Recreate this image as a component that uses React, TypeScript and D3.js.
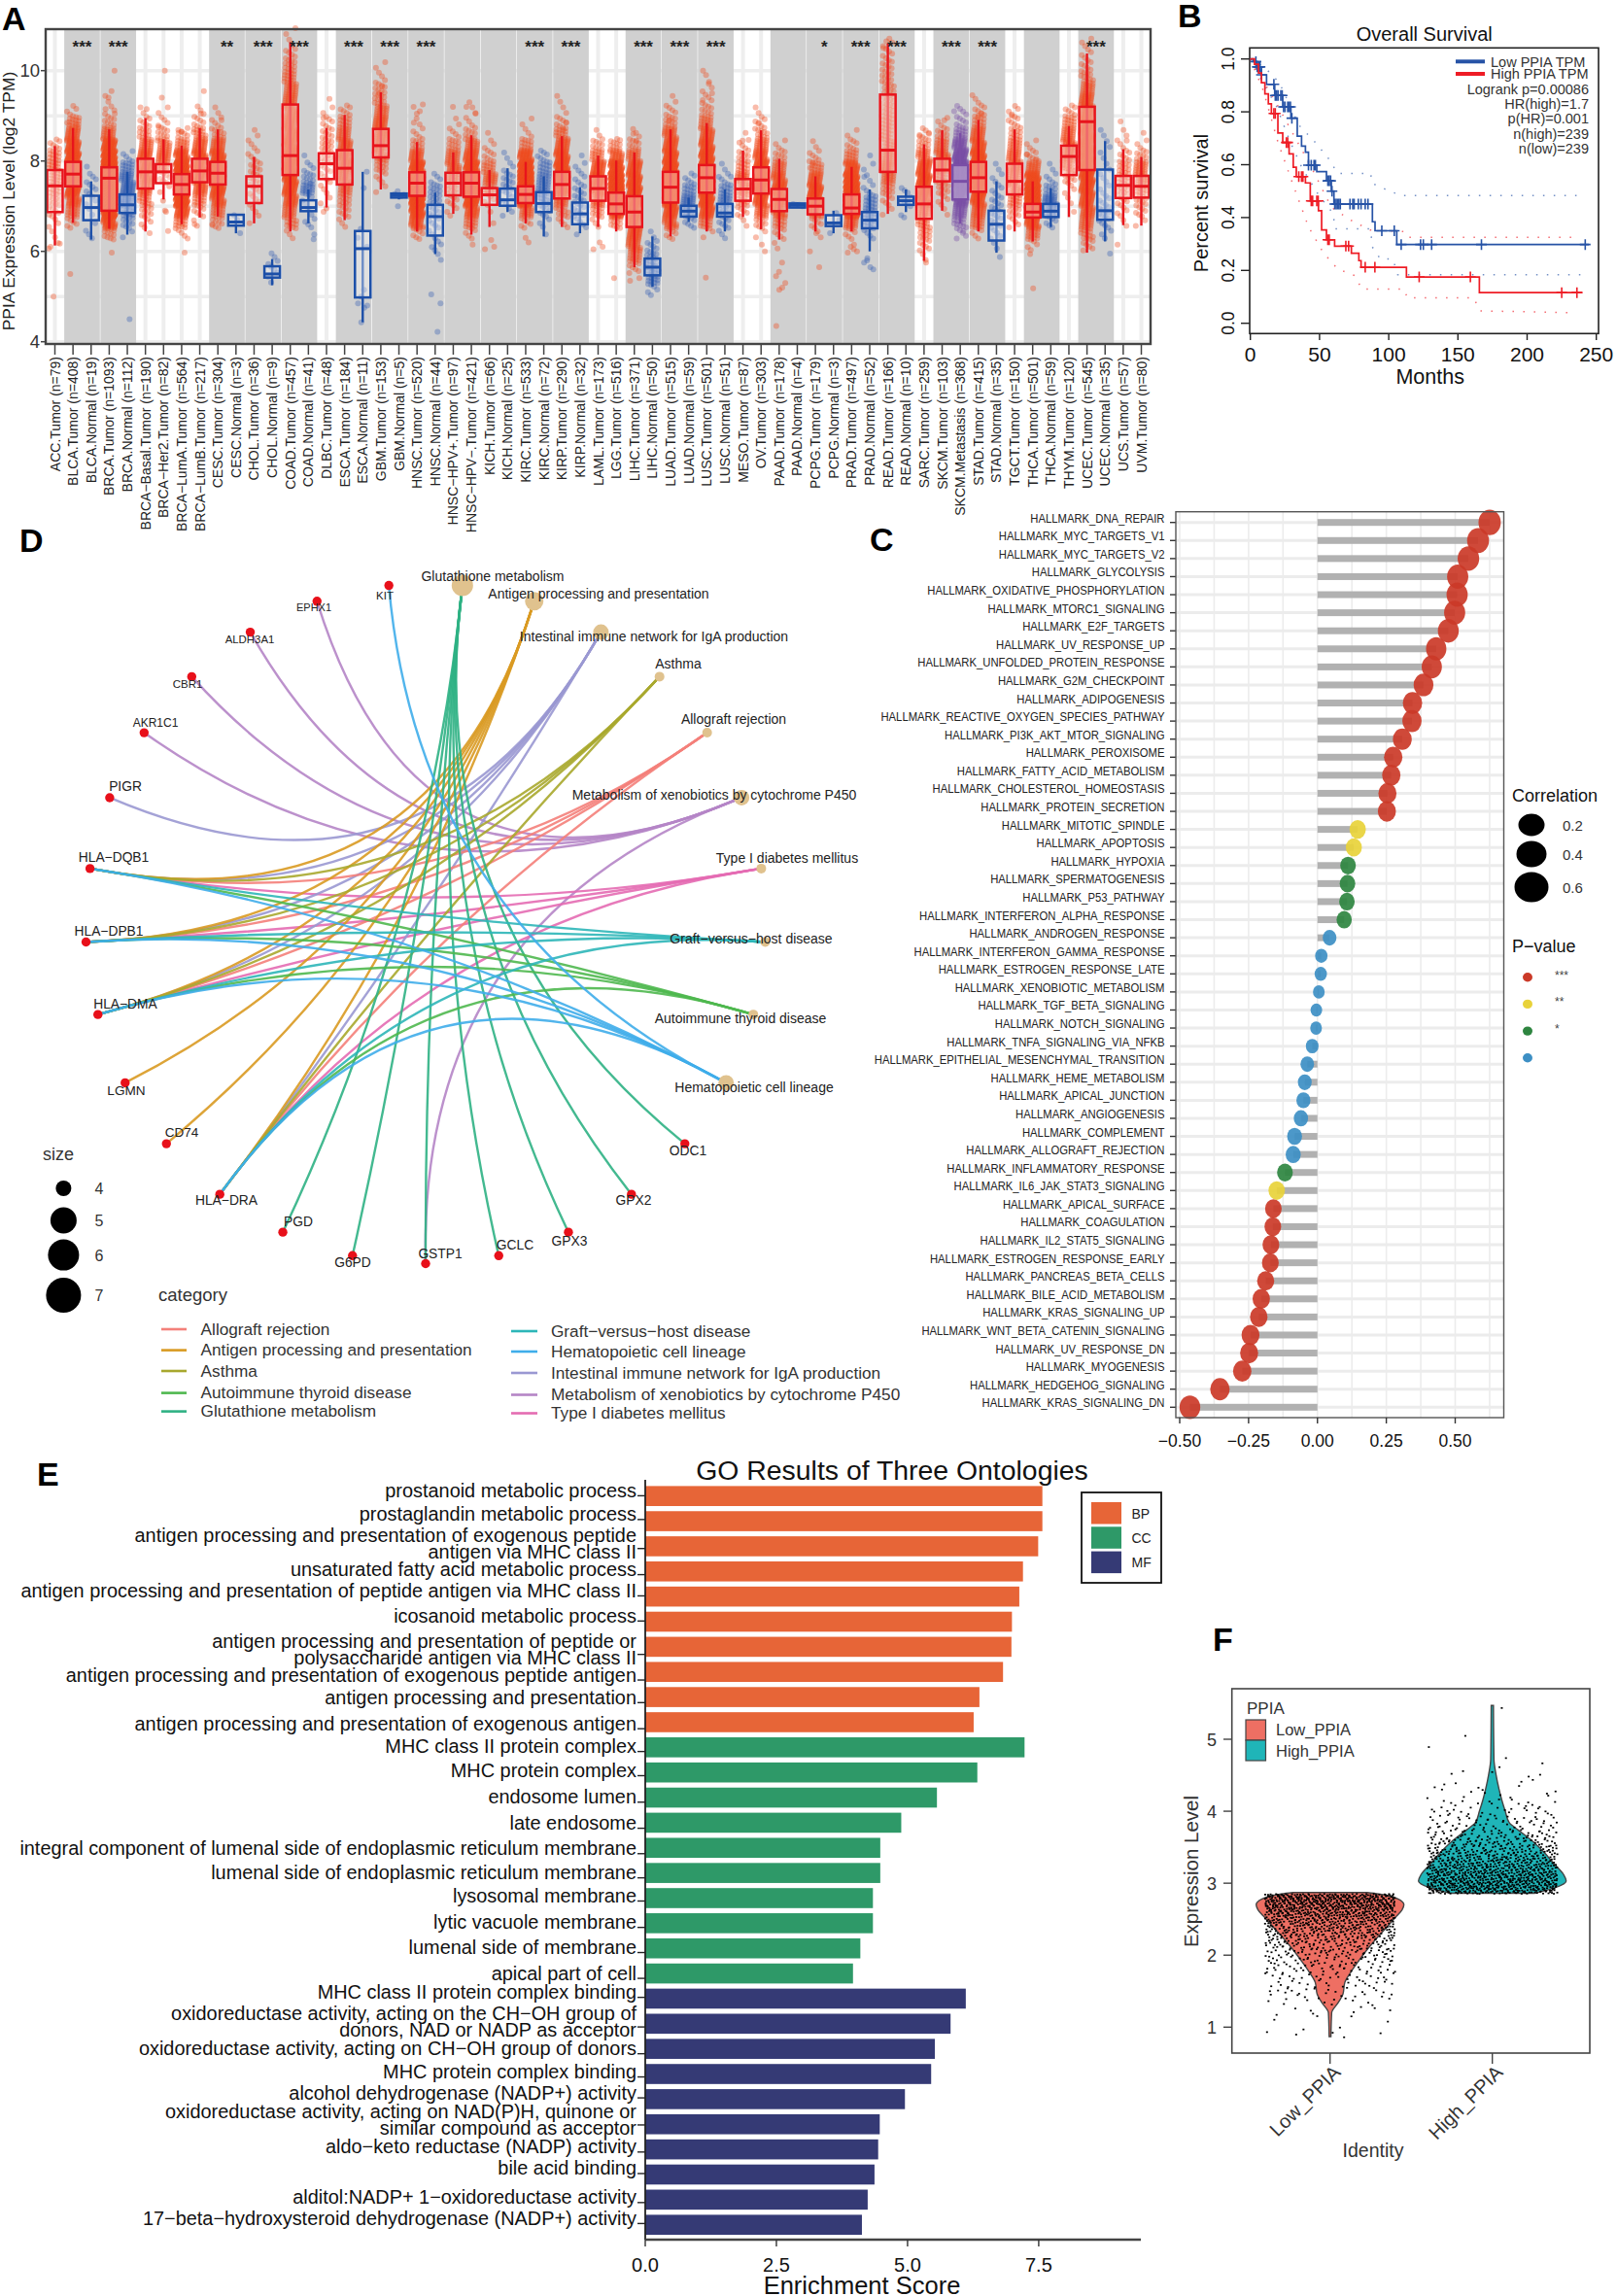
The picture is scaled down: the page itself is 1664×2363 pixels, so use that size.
import React, { useEffect, useRef } from "react";
import * as d3 from "d3";

const FONT = "'Liberation Sans', Arial, sans-serif";

// ---- panel A: expression per cancer type
const groupNames = [
    "ACC.Tumor (n=79)", "BLCA.Tumor (n=408)", "BLCA.Normal (n=19)", "BRCA.Tumor (n=1093)", "BRCA.Normal (n=112)", "BRCA−Basal.Tumor (n=190)", "BRCA−Her2.Tumor (n=82)", "BRCA−LumA.Tumor (n=564)", "BRCA−LumB.Tumor (n=217)", "CESC.Tumor (n=304)",
    "CESC.Normal (n=3)", "CHOL.Tumor (n=36)", "CHOL.Normal (n=9)", "COAD.Tumor (n=457)", "COAD.Normal (n=41)", "DLBC.Tumor (n=48)", "ESCA.Tumor (n=184)", "ESCA.Normal (n=11)", "GBM.Tumor (n=153)", "GBM.Normal (n=5)",
    "HNSC.Tumor (n=520)", "HNSC.Normal (n=44)", "HNSC−HPV+.Tumor (n=97)", "HNSC−HPV−.Tumor (n=421)", "KICH.Tumor (n=66)", "KICH.Normal (n=25)", "KIRC.Tumor (n=533)", "KIRC.Normal (n=72)", "KIRP.Tumor (n=290)", "KIRP.Normal (n=32)",
    "LAML.Tumor (n=173)", "LGG.Tumor (n=516)", "LIHC.Tumor (n=371)", "LIHC.Normal (n=50)", "LUAD.Tumor (n=515)", "LUAD.Normal (n=59)", "LUSC.Tumor (n=501)", "LUSC.Normal (n=51)", "MESO.Tumor (n=87)", "OV.Tumor (n=303)",
    "PAAD.Tumor (n=178)", "PAAD.Normal (n=4)", "PCPG.Tumor (n=179)", "PCPG.Normal (n=3)", "PRAD.Tumor (n=497)", "PRAD.Normal (n=52)", "READ.Tumor (n=166)", "READ.Normal (n=10)", "SARC.Tumor (n=259)", "SKCM.Tumor (n=103)",
    "SKCM.Metastasis (n=368)", "STAD.Tumor (n=415)", "STAD.Normal (n=35)", "TGCT.Tumor (n=150)", "THCA.Tumor (n=501)", "THCA.Normal (n=59)", "THYM.Tumor (n=120)", "UCEC.Tumor (n=545)", "UCEC.Normal (n=35)", "UCS.Tumor (n=57)",
    "UVM.Tumor (n=80)",
];
const boxLow = [
    6.13, 6.63, 6.26, 6.5, 6.37, 6.44, 7.15, 6.6, 6.75, 6.77,
    6.4, 6.62, 5.25, 6.44, 6.62, 6.97, 6.69, 4.43, 7.37, 7.15,
    6.44, 5.94, 6.83, 6.37, 6.54, 6.87, 6.62, 6.33, 6.54, 6.4,
    6.54, 6.44, 5.65, 5.22, 6.33, 6.65, 6.44, 6.44, 6.76, 6.49,
    6.26, 6.97, 6.44, 6.4, 6.44, 6.0, 6.83, 6.87, 5.79, 6.9,
    6.62, 6.44, 5.97, 6.44, 6.22, 6.54, 6.76, 5.97, 6.22, 6.58,
    6.57,
];
const boxQ1 = [
    6.87, 7.44, 6.69, 6.9, 6.85, 7.39, 7.51, 7.26, 7.53, 7.48,
    6.57, 7.07, 5.42, 7.69, 6.89, 7.6, 7.48, 4.98, 8.08, 7.19,
    7.23, 6.35, 7.24, 7.21, 7.03, 7.01, 7.07, 6.87, 7.17, 6.6,
    7.12, 6.83, 6.54, 5.47, 7.08, 6.77, 7.3, 6.77, 7.12, 7.28,
    6.89, 6.97, 6.82, 6.56, 6.83, 6.51, 7.76, 7.03, 6.72, 7.55,
    7.15, 7.32, 6.24, 7.26, 6.75, 6.76, 7.69, 7.8, 6.7, 7.18,
    7.19,
];
const boxMedian = [
    7.45, 7.71, 6.97, 7.62, 7.03, 7.76, 7.76, 7.48, 7.78, 7.73,
    6.65, 7.44, 5.5, 8.12, 6.97, 7.94, 7.84, 6.06, 8.34, 7.24,
    7.51, 6.77, 7.51, 7.51, 7.25, 7.14, 7.26, 7.06, 7.48, 6.83,
    7.39, 7.05, 6.87, 5.65, 7.42, 6.89, 7.63, 6.85, 7.38, 7.58,
    7.15, 7.02, 7.0, 6.63, 6.96, 6.69, 8.24, 7.12, 7.05, 7.8,
    7.55, 7.63, 6.6, 7.55, 6.87, 6.89, 8.1, 8.87, 6.9, 7.46,
    7.44,
];
const boxQ3 = [
    7.8, 7.98, 7.23, 7.86, 7.26, 8.05, 7.93, 7.71, 8.05, 7.98,
    6.81, 7.66, 5.67, 9.25, 7.13, 8.17, 8.24, 6.45, 8.71, 7.28,
    7.75, 7.03, 7.74, 7.75, 7.4, 7.39, 7.44, 7.31, 7.76, 7.08,
    7.66, 7.3, 7.22, 5.84, 7.76, 7.01, 7.91, 7.05, 7.6, 7.86,
    7.38, 7.06, 7.17, 6.8, 7.26, 6.87, 9.47, 7.21, 7.43, 8.05,
    7.91, 7.98, 6.9, 7.94, 7.05, 7.05, 8.34, 9.2, 7.81, 7.67,
    7.67,
];
const boxHigh = [
    8.33, 8.73, 7.55, 8.7, 7.76, 8.95, 8.48, 8.34, 8.73, 8.7,
    6.81, 8.09, 5.83, 10.63, 7.37, 8.73, 9.02, 7.76, 9.52, 7.3,
    8.42, 7.3, 8.19, 8.57, 7.8, 7.84, 7.98, 7.66, 8.55, 7.42,
    8.12, 8.01, 8.19, 6.33, 8.7, 7.19, 8.84, 7.37, 8.23, 8.68,
    8.05, 7.08, 7.66, 6.9, 7.87, 7.37, 10.6, 7.37, 8.37, 8.68,
    8.62, 8.91, 7.55, 8.7, 7.55, 7.4, 8.77, 10.38, 8.44, 8.26,
    8.09,
];
const cloudStart = [
    6.0, 6.5, 6.25, 6.25, 6.25, 6.5, 6.75, 6.25, 6.5, 6.5,
    0, 6.5, 5.25, 6.25, 6.25, 6.75, 6.5, 0, 7.25, 0,
    6.25, 5.75, 6.75, 6.25, 6.5, 6.75, 6.5, 6.25, 6.5, 6.25,
    6.5, 6.5, 5.5, 5.0, 6.25, 6.5, 6.25, 6.25, 6.5, 6.25,
    6.0, 0, 6.25, 0, 6.25, 6.25, 6.75, 0, 5.75, 6.75,
    6.25, 6.25, 5.75, 6.5, 6.0, 6.5, 6.75, 6.0, 6.25, 6.5,
    6.5,
];
const cloudCounts = [
    [2, 2, 3, 6, 9, 12, 14, 14, 12, 6], [6, 16, 30, 52, 70, 80, 64, 44, 28, 14, 4], [3, 1, 2, 3, 5, 4, 1], [10, 40, 100, 170, 220, 220, 160, 90, 50, 20, 8, 3, 2], [2, 8, 14, 22, 26, 22, 14, 4],
    [4, 8, 14, 24, 32, 38, 32, 20, 10, 6, 2], [1, 1, 2, 6, 16, 24, 18, 8, 4, 2], [4, 14, 40, 90, 130, 130, 90, 44, 16, 6], [2, 6, 14, 26, 36, 44, 40, 26, 14, 6, 3], [8, 16, 30, 46, 60, 60, 44, 24, 10, 4, 2],
    [], [1, 3, 4, 5, 7, 7, 4, 3, 2], [2, 4, 3], [3, 12, 18, 30, 40, 50, 50, 50, 40, 34, 30, 26, 22, 18, 14, 10, 6, 2, 2], [1, 4, 2, 3, 17, 9, 4, 1],
    [1, 2, 3, 4, 6, 8, 9, 7, 5, 2, 1], [3, 7, 10, 16, 24, 30, 32, 26, 18, 12, 6], [], [2, 4, 10, 18, 24, 28, 26, 18, 10, 8, 3, 2], [],
    [6, 30, 60, 100, 120, 100, 60, 28, 10, 4, 2], [2, 4, 3, 5, 7, 9, 10, 4], [3, 6, 10, 18, 24, 20, 10, 4, 2], [4, 14, 30, 60, 90, 90, 64, 36, 20, 8, 3, 2], [1, 1, 4, 12, 22, 14, 6, 3, 1],
    [3, 3, 7, 7, 3, 2], [6, 20, 70, 140, 150, 90, 40, 12, 3, 2], [1, 3, 6, 12, 16, 16, 12, 6], [4, 10, 20, 40, 60, 60, 44, 28, 14, 6, 2, 2], [1, 4, 6, 7, 6, 4, 3, 1],
    [3, 10, 22, 36, 44, 32, 16, 8, 2], [10, 50, 110, 140, 110, 60, 26, 10], [6, 16, 24, 30, 36, 40, 48, 56, 48, 36, 20, 8, 3], [4, 14, 14, 10, 6, 2], [6, 24, 40, 70, 90, 90, 70, 50, 34, 24, 10, 5, 2],
    [6, 14, 22, 12, 5], [2, 14, 40, 62, 74, 80, 70, 60, 40, 28, 16, 8, 4, 3], [3, 6, 8, 16, 12, 4, 2], [2, 6, 12, 20, 22, 12, 8, 4, 1], [2, 8, 20, 38, 54, 60, 50, 34, 20, 10, 5, 2],
    [2, 5, 12, 26, 34, 40, 30, 18, 8, 3], [], [2, 6, 24, 46, 50, 30, 14, 5, 2], [], [5, 20, 70, 130, 130, 80, 40, 14, 6, 2],
    [4, 12, 14, 12, 4, 2, 2, 1], [2, 5, 10, 18, 24, 18, 14, 12, 12, 10, 9, 9, 8, 7, 5, 3], [], [2, 6, 10, 14, 24, 38, 46, 48, 36, 20, 10, 5], [2, 4, 8, 14, 24, 24, 16, 8, 3],
    [4, 12, 22, 40, 54, 66, 66, 50, 30, 14, 6, 4], [4, 16, 24, 40, 56, 70, 70, 56, 34, 24, 12, 6, 3], [1, 2, 4, 6, 7, 6, 4, 3, 2], [4, 8, 14, 18, 22, 26, 22, 16, 10, 6, 4], [4, 16, 40, 90, 140, 120, 60, 22, 6, 3],
    [5, 14, 24, 10, 4, 2], [1, 2, 3, 8, 16, 24, 26, 20, 14, 6], [6, 12, 20, 28, 36, 44, 50, 54, 54, 50, 46, 40, 36, 28, 18, 10, 6, 4, 3], [3, 5, 8, 5, 3, 3, 2, 2, 2, 2], [2, 4, 6, 10, 12, 10, 6, 3, 2, 1],
    [2, 6, 8, 14, 20, 18, 8, 3, 1],
];
// single dots away from the clouds
const strayDots = [
    [5.0, 6.1, 6.17], [5.5, 8.85, 8.8], [], [10.0, 9.55, 9.4, 9.15, 9.05, 5.97], [4.5],
    [6.4, 9.15], [10.0, 9.4, 8.75, 6.45, 6.9], [5.97, 8.65, 8.62], [6.6, 9.55, 9.05], [6.6, 8.9],
    [6.4, 6.7, 6.8], [], [], [], [6.27, 7.5],
    [6.95, 8.95], [], [7.76, 7.4, 6.5, 6.3, 6.1, 5.15, 5.0, 4.85, 4.8, 4.75, 4.43], [9.65, 9.5], [7.33, 7.27, 7.25, 7.22, 7.0],
    [9.2, 9.25, 9.1, 9.05, 8.85], [5.05, 4.85, 4.22], [9.2], [9.3, 9.2, 9.05, 6.15], [6.05, 6.1, 6.25],
    [], [6.2, 6.3], [], [8.85, 8.7], [],
    [6.05, 6.1, 6.2], [5.41, 8.0], [5.35, 5.41, 8.45, 8.6], [], [8.9],
    [], [5.42, 9.35, 9.5, 9.75, 9.9, 10.0], [7.65], [8.45], [6.0, 6.15, 8.85],
    [5.75, 5.55, 5.45, 5.3, 5.2, 5.15, 4.35], [7.03, 7.03, 7.05, 7.0], [6.0, 5.65, 6.4, 7.95, 7.85], [6.4, 6.7, 6.85], [6.05, 6.1, 5.97, 6.0, 6.15],
    [5.8, 5.75, 5.6, 5.65, 5.85, 7.65], [10.65, 10.5], [6.75, 6.8, 7.0, 7.1, 7.1, 7.15, 7.2, 7.3, 7.35, 7.4], [8.55, 8.6, 5.75], [8.9],
    [9.1, 6.45], [9.05, 9.0], [], [9.0], [5.18, 5.94, 8.15, 8.05],
    [], [], [], [5.95], [6.15, 8.45],
    [],
];
// [first index of the tumour/normal pair, stars]; stars may be empty
const greyPairs: [number, string][] = [
    [1, "***"], [3, "***"], [9, "**"], [11, "***"], [13, "***"], [16, "***"], [18, "***"], [20, "***"], [22, ""], [24, ""], [26, "***"], [28, "***"],
    [32, "***"], [34, "***"], [36, "***"], [40, ""], [42, "*"], [44, "***"], [46, "***"], [49, "***"], [51, "***"], [54, ""], [57, "***"],
];

// ---- panel B: survival
const lowSurvival: [number, number][] = [
    [0, 1], [2, .99], [4.7, .97], [8, .94], [11.7, .904], [17.6, .862], [23.4, .819], [29.3, .776], [33.9, .708], [37, .67], [39.8, .647], [42, .598], [48, .574], [55, .539], [58.5, .5], [60.4, .451], [88.2, .384], [90.1, .35], [105.8, .298], [244.6, .298],
];
const highSurvival: [number, number][] = [
    [0, 1], [3, .98], [5.9, .947], [8, .91], [10.5, .868], [13, .83], [15.2, .794], [19.9, .72], [23.4, .684], [28, .641], [31, .59], [33.2, .555], [39.8, .531], [43.3, .463], [49.2, .426], [51.5, .353], [55, .316], [60.9, .292], [73, .265], [78.4, .237], [80, .212], [112.8, .175], [165.5, .116], [240, .116],
];
const lowCensored = [4, 5, 6, 7, 8, 17, 18, 19, 20, 22, 23, 24, 25, 27, 28, 29, 30, 42, 44, 46, 47, 56, 57, 58, 59, 61, 62, 63, 64, 65, 72, 74, 75, 78, 80, 83, 85, 95, 104, 109, 123, 125, 131, 167, 242];
const highCensored = [17, 18, 26, 27, 35, 37, 38, 44, 45, 48, 49, 56, 57, 69, 71, 83, 90, 122, 159, 225, 236];
const lowUpper: [number, number][] = [[0, 1], [10, .97], [21, .91], [35, .75], [47, .684], [57, .62], [63, .567], [87, .567], [87.8, .53], [98, .506], [109, .483], [241, .483]];
const lowLower: [number, number][] = [[0, 1], [8, .92], [19, .82], [28, .696], [37.5, .586], [49, .488], [60, .414], [61, .357], [87, .357], [88, .29], [94, .243], [103, .243], [106.5, .184], [239, .184]];
const highUpper: [number, number][] = [[0, 1], [18, .84], [33, .696], [44.5, .586], [58.5, .439], [72.6, .39], [86.6, .353], [112, .347], [114.7, .325], [236, .325]];
const highLower: [number, number][] = [[0, 1], [9.4, .88], [20, .684], [30, .537], [42, .365], [52.7, .267], [63, .206], [75, .181], [80.8, .129], [111, .129], [113.5, .096], [161.5, .096], [165.7, .047], [235, .04]];
const survivalNotes = ["Logrank p=0.00086", "HR(high)=1.7", "p(HR)=0.001", "n(high)=239", "n(low)=239"];

// ---- panel C: hallmark correlations
const hallmarkNames = [
    "DNA_REPAIR", "MYC_TARGETS_V1", "MYC_TARGETS_V2", "GLYCOLYSIS", "OXIDATIVE_PHOSPHORYLATION", "MTORC1_SIGNALING", "E2F_TARGETS", "UV_RESPONSE_UP", "UNFOLDED_PROTEIN_RESPONSE", "G2M_CHECKPOINT",
    "ADIPOGENESIS", "REACTIVE_OXYGEN_SPECIES_PATHWAY", "PI3K_AKT_MTOR_SIGNALING", "PEROXISOME", "FATTY_ACID_METABOLISM", "CHOLESTEROL_HOMEOSTASIS", "PROTEIN_SECRETION", "MITOTIC_SPINDLE", "APOPTOSIS", "HYPOXIA",
    "SPERMATOGENESIS", "P53_PATHWAY", "INTERFERON_ALPHA_RESPONSE", "ANDROGEN_RESPONSE", "INTERFERON_GAMMA_RESPONSE", "ESTROGEN_RESPONSE_LATE", "XENOBIOTIC_METABOLISM", "TGF_BETA_SIGNALING", "NOTCH_SIGNALING", "TNFA_SIGNALING_VIA_NFKB",
    "EPITHELIAL_MESENCHYMAL_TRANSITION", "HEME_METABOLISM", "APICAL_JUNCTION", "ANGIOGENESIS", "COMPLEMENT", "ALLOGRAFT_REJECTION", "INFLAMMATORY_RESPONSE", "IL6_JAK_STAT3_SIGNALING", "APICAL_SURFACE", "COAGULATION",
    "IL2_STAT5_SIGNALING", "ESTROGEN_RESPONSE_EARLY", "PANCREAS_BETA_CELLS", "BILE_ACID_METABOLISM", "KRAS_SIGNALING_UP", "WNT_BETA_CATENIN_SIGNALING", "UV_RESPONSE_DN", "MYOGENESIS", "HEDGEHOG_SIGNALING", "KRAS_SIGNALING_DN",
];
const hallmarkCorr = [
    .625, .583, .548, .509, .507, .498, .475, .431, .415, .385,
    .345, .343, .308, .275, .268, .254, .252, .146, .132, .111,
    .109, .107, .097, .044, .014, .012, .005, -.004, -.005, -.019,
    -.037, -.046, -.051, -.06, -.083, -.088, -.118, -.148, -.16, -.162,
    -.169, -.171, -.188, -.204, -.213, -.243, -.248, -.273, -.354, -.463,
];
const hallmarkStars = [
    3, 3, 3, 3, 3, 3, 3, 3, 3, 3,
    3, 3, 3, 3, 3, 3, 3, 2, 2, 1,
    1, 1, 1, 0, 0, 0, 0, 0, 0, 0,
    0, 0, 0, 0, 0, 0, 1, 2, 3, 3,
    3, 3, 3, 3, 3, 3, 3, 3, 3, 3,
];
const starColors = ["#3d8fc4", "#2e8540", "#e8d23a", "#cb3a28"];

// ---- panel D: gene / pathway network, in circle order starting at the bottom
const networkNodes = [
    "GSTP1", "G6PD", "PGD", "HLA−DRA", "CD74", "LGMN", "HLA−DMA", "HLA−DPB1", "HLA−DQB1", "PIGR", "AKR1C1", "CBR1", "ALDH3A1", "EPHX1", "KIT",
    "Glutathione metabolism", "Antigen processing and presentation", "Intestinal immune network for IgA production", "Asthma", "Allograft rejection", "Metabolism of xenobiotics by cytochrome P450", "Type I diabetes mellitus", "Graft−versus−host disease", "Autoimmune thyroid disease", "Hematopoietic cell lineage",
    "ODC1", "GPX2", "GPX3", "GCLC",
];
const hlaGenes = ["HLA−DRA", "HLA−DMA", "HLA−DPB1", "HLA−DQB1"];
const pathwayCategories = ["Allograft rejection", "Antigen processing and presentation", "Asthma", "Autoimmune thyroid disease", "Glutathione metabolism", "Graft−versus−host disease", "Hematopoietic cell lineage", "Intestinal immune network for IgA production", "Metabolism of xenobiotics by cytochrome P450", "Type I diabetes mellitus"];
const pathwayGenes = [
    hlaGenes,
    [...hlaGenes, "CD74", "LGMN"],
    hlaGenes,
    hlaGenes,
    ["G6PD", "PGD", "GSTP1", "GPX2", "GPX3", "ODC1", "GCLC"],
    hlaGenes,
    [...hlaGenes, "KIT"],
    [...hlaGenes, "PIGR"],
    ["AKR1C1", "CBR1", "ALDH3A1", "EPHX1", "GSTP1"],
    hlaGenes,
];
const categoryColors = ["#f4807a", "#d99a22", "#a8a82e", "#4fb84f", "#2fb184", "#2db6b8", "#3fadea", "#9a98d2", "#b585c6", "#e46cb2"];
// the figure paints the blue and teal edges over the others
const edgeDrawOrder = [8, 9, 7, 0, 1, 2, 4, 3, 5, 6];
const sizeLegend = [4, 5, 6, 7];

// ---- panel E: GO enrichment
const goTerms = [
    "prostanoid metabolic process", "prostaglandin metabolic process", "antigen processing and presentation of exogenous peptide\nantigen via MHC class II", "unsaturated fatty acid metabolic process", "antigen processing and presentation of peptide antigen via MHC class II",
    "icosanoid metabolic process", "antigen processing and presentation of peptide or\npolysaccharide antigen via MHC class II", "antigen processing and presentation of exogenous peptide antigen", "antigen processing and presentation", "antigen processing and presentation of exogenous antigen",
    "MHC class II protein complex", "MHC protein complex", "endosome lumen", "late endosome", "integral component of lumenal side of endoplasmic reticulum  membrane",
    "lumenal side of endoplasmic reticulum membrane", "lysosomal membrane", "lytic vacuole membrane", "lumenal side of membrane", "apical part of cell",
    "MHC class II protein complex binding", "oxidoreductase activity, acting on the CH−OH group of\ndonors, NAD or NADP as acceptor", "oxidoreductase activity, acting on CH−OH group of donors", "MHC protein complex binding", "alcohol dehydrogenase (NADP+) activity",
    "oxidoreductase activity, acting on NAD(P)H, quinone or\nsimilar compound as acceptor", "aldo−keto reductase (NADP) activity", "bile acid binding", "alditol:NADP+ 1−oxidoreductase activity", "17−beta−hydroxysteroid dehydrogenase (NADP+) activity",
];
const goScores = [
    7.57, 7.57, 7.49, 7.2, 7.13, 6.99, 6.98, 6.82, 6.37, 6.26,
    7.23, 6.33, 5.56, 4.88, 4.48, 4.48, 4.34, 4.34, 4.1, 3.96,
    6.11, 5.82, 5.52, 5.45, 4.95, 4.47, 4.44, 4.37, 4.24, 4.13,
];
const goOntology = [
    "BP", "BP", "BP", "BP", "BP", "BP", "BP", "BP", "BP", "BP",
    "CC", "CC", "CC", "CC", "CC", "CC", "CC", "CC", "CC", "CC",
    "MF", "MF", "MF", "MF", "MF", "MF", "MF", "MF", "MF", "MF",
];
const ontologyColors: Record<string, string> = { BP: "#e76537", CC: "#2e9968", MF: "#353a75" };

// ---- panel F: violins, [expression, relative width]
const lowViolin: [number, number][] = [[.87, .012], [1.2, .022], [1.34, .11], [1.46, .175], [1.62, .2], [1.77, .285], [1.93, .395], [2.08, .505], [2.24, .635], [2.39, .77], [2.52, .88], [2.63, .975], [2.7, 1], [2.78, .92], [2.85, .66], [2.87, .5]];
const highViolin: [number, number][] = [[2.86, .57], [2.94, .855], [3.03, 1], [3.12, .965], [3.27, .835], [3.43, .7], [3.58, .55], [3.74, .35], [3.84, .23], [4.0, .175], [4.15, .13], [4.31, .09], [4.51, .05], [4.72, .022], [5.47, .015]];
// jittered cells as counts per 0.1 wide bin
const lowCellBins: [number, number][] = [[.9, 5], [1.0, 2], [1.1, 3], [1.2, 6], [1.3, 8], [1.4, 14], [1.5, 18], [1.6, 20], [1.7, 24], [1.8, 30], [1.9, 36], [2.0, 46], [2.1, 56], [2.2, 70], [2.3, 90], [2.4, 110], [2.5, 130], [2.6, 160], [2.7, 190], [2.8, 210]];
const highCellBins: [number, number][] = [[2.9, 170], [3.0, 170], [3.1, 150], [3.2, 130], [3.3, 110], [3.4, 90], [3.5, 70], [3.6, 56], [3.7, 40], [3.8, 30], [3.9, 26], [4.0, 20], [4.1, 14], [4.2, 8], [4.3, 8], [4.4, 4], [4.5, 4], [4.6, 2], [4.7, 2], [4.9, 1], [5.0, 1], [5.45, 1]];

type G = d3.Selection<SVGGElement, unknown, null, undefined>;

// low discrepancy walks: an even, repeatable spread for the jitter
const spread = (i: number) => ((i * 0.7548776662) % 1) * 2 - 1;
const halton = (i: number, base: number) => {
    let f = 1, r = 0, n = i + 1;
    while (n > 0) {
        f /= base;
        r += f * (n % base);
        n = Math.floor(n / base);
    }
    return r;
};

const label = (g: G, x: number, y: number, text: string, size: number, anchor = "start", fill = "#111") =>
    g.append("text")
        .attr("x", x)
        .attr("y", y)
        .attr("font-size", size)
        .attr("text-anchor", anchor)
        .attr("fill", fill)
        .text(text);

const rotated = (g: G, x: number, y: number, text: string, size: number, angle: number, anchor = "middle", fill = "#111") =>
    g.append("text")
        .attr("transform", `translate(${x},${y}) rotate(${angle})`)
        .attr("font-size", size)
        .attr("text-anchor", anchor)
        .attr("fill", fill)
        .text(text);

function drawPanelA(g: G) {
    const frame = { left: 47, right: 1184, top: 30, bottom: 354 };
    const x = d3.scalePoint<string>().domain(groupNames).range([56.5, 1174.5]);
    const y = d3.scaleLinear().domain([4, 10]).range([351.7, 72.7]);
    const step = x.step();
    const xAt = (i: number) => x(groupNames[i]) as number;

    [4, 5, 6, 7, 8, 9, 10].forEach(v => {
        g.append("line").attr("x1", frame.left).attr("x2", frame.right).attr("y1", y(v)).attr("y2", y(v)).attr("stroke", "#eeeeee").attr("stroke-width", 3.5);
    });
    groupNames.forEach((_, i) => {
        g.append("line").attr("x1", xAt(i)).attr("x2", xAt(i)).attr("y1", frame.top).attr("y2", frame.bottom).attr("stroke", "#eeeeee").attr("stroke-width", 4);
    });
    greyPairs.forEach(([i]) => {
        g.append("rect").attr("x", xAt(i) - step / 2 + .3).attr("width", step * 2 - .6).attr("y", frame.top + 1).attr("height", frame.bottom - frame.top - 2).attr("fill", "#d0d0d0");
    });

    groupNames.forEach((name, i) => {
        const colors = name.includes("Metastasis")
            ? { line: "#7a4ea6", dot: "#7a4ea6" }
            : name.includes("Normal")
                ? { line: "#1c4fa8", dot: "#3a60b4" }
                : { line: "#e8141c", dot: "#ee4d20" };
        const cx = xAt(i);
        const dots = g.append("g").attr("fill", colors.dot).attr("fill-opacity", .38);
        let k = 0;
        const addDot = (v: number) => {
            dots.append("circle").attr("cx", cx + spread(k + i * 7) * 6.3).attr("cy", y(v)).attr("r", 3);
            k++;
        };
        cloudCounts[i].forEach((count, b) => {
            d3.range(count).forEach(c => addDot(cloudStart[i] + (b + (c + .5) / count) * .25));
        });
        strayDots[i].forEach(addDot);

        g.append("line").attr("x1", cx).attr("x2", cx).attr("y1", y(boxLow[i])).attr("y2", y(boxHigh[i])).attr("stroke", colors.line).attr("stroke-width", 2.4);
        g.append("rect").attr("x", cx - 8).attr("width", 16).attr("y", y(boxQ3[i])).attr("height", y(boxQ1[i]) - y(boxQ3[i]))
            .attr("fill", "#fff").attr("fill-opacity", .35).attr("stroke", colors.line).attr("stroke-width", 2.5);
        g.append("line").attr("x1", cx - 8).attr("x2", cx + 8).attr("y1", y(boxMedian[i])).attr("y2", y(boxMedian[i])).attr("stroke", colors.line).attr("stroke-width", 3);

        g.append("line").attr("x1", cx).attr("x2", cx).attr("y1", frame.bottom).attr("y2", 365).attr("stroke", "#444").attr("stroke-width", 1.5);
        rotated(g, cx + 5, 367, name, 14, -90, "end", "#222");
    });

    greyPairs.filter(d => d[1]).forEach(([i, stars]) => {
        label(g, xAt(i) + step / 2, 54, stars, 17, "middle", "#222").attr("font-weight", "bold");
    });

    g.append("rect").attr("x", frame.left).attr("y", frame.top).attr("width", frame.right - frame.left).attr("height", frame.bottom - frame.top)
        .attr("fill", "none").attr("stroke", "#444").attr("stroke-width", 2.4);
    [4, 6, 8, 10].forEach(v => {
        g.append("line").attr("x1", frame.left - 5).attr("x2", frame.left).attr("y1", y(v)).attr("y2", y(v)).attr("stroke", "#444").attr("stroke-width", 1.5);
        label(g, frame.left - 6, y(v) + 6.5, String(v), 18.5, "end", "#333");
    });
    rotated(g, 15, 207, "PPIA Expression Level (log2 TPM)", 17.4, -90, "middle", "#222");
}

function drawPanelB(g: G) {
    const x = d3.scaleLinear().domain([0, 250]).range([1286.7, 1642.7]);
    const y = d3.scaleLinear().domain([0, 1]).range([332.7, 60.7]);
    const BLUE = "#2753a6";
    const RED = "#ee1c25";
    const step = d3.line<[number, number]>().x(d => x(d[0])).y(d => y(d[1])).curve(d3.curveStepAfter);
    const plain = d3.line<[number, number]>().x(d => x(d[0])).y(d => y(d[1]));

    g.append("rect").attr("x", 1286).attr("y", 49.3).attr("width", 359).attr("height", 294).attr("fill", "none").attr("stroke", "#222").attr("stroke-width", 1.6);

    const bands: [[number, number][], string][] = [[lowUpper, BLUE], [lowLower, BLUE], [highUpper, RED], [highLower, RED]];
    bands.forEach(([d, c]) => {
        g.append("path").attr("d", plain(d)).attr("fill", "none").attr("stroke", c).attr("stroke-opacity", .65).attr("stroke-width", 1.5).attr("stroke-dasharray", "1.5 9.5");
    });

    const survivalAt = (curve: [number, number][], m: number) => {
        const i = d3.bisectRight(curve.map(d => d[0]), m) - 1;
        return curve[Math.max(i, 0)][1];
    };
    const curves: [[number, number][], number[], string][] = [[lowSurvival, lowCensored, BLUE], [highSurvival, highCensored, RED]];
    curves.forEach(([curve, marks, c]) => {
        g.append("path").attr("d", step(curve)).attr("fill", "none").attr("stroke", c).attr("stroke-width", 1.7);
        marks.forEach(m => {
            const s = survivalAt(curve, m);
            g.append("path").attr("d", `M${x(m) - 5.5},${y(s)}H${x(m) + 5.5}M${x(m)},${y(s) - 5.5}V${y(s) + 5.5}`).attr("stroke", c).attr("stroke-width", 1.6).attr("fill", "none");
        });
    });

    [0, 50, 100, 150, 200, 250].forEach(m => {
        g.append("line").attr("x1", x(m)).attr("x2", x(m)).attr("y1", 343.3).attr("y2", 350).attr("stroke", "#222").attr("stroke-width", 1.4);
        label(g, x(m), 372, String(m), 21, "middle");
    });
    [0, .2, .4, .6, .8, 1].forEach(s => {
        g.append("line").attr("x1", 1277).attr("x2", 1286).attr("y1", y(s)).attr("y2", y(s)).attr("stroke", "#222").attr("stroke-width", 1.4);
        rotated(g, 1270, y(s), s.toFixed(1), 17.5, -90);
    });
    label(g, 1465.7, 42, "Overall Survival", 20, "middle");
    label(g, 1471.7, 395, "Months", 21.5, "middle");
    rotated(g, 1243, 209, "Percent survival", 20, -90);

    g.append("line").attr("x1", 1498).attr("x2", 1528).attr("y1", 63.3).attr("y2", 63.3).attr("stroke", BLUE).attr("stroke-width", 4);
    g.append("line").attr("x1", 1498).attr("x2", 1528).attr("y1", 76).attr("y2", 76).attr("stroke", RED).attr("stroke-width", 4);
    label(g, 1534, 68.5, "Low PPIA TPM", 14.5, "start", "#333");
    label(g, 1534, 81, "High PPIA TPM", 14.5, "start", "#333");
    survivalNotes.forEach((t, i) => label(g, 1635, 96.5 + i * 15.4, t, 14.5, "end", "#333"));
}

function drawPanelC(g: G) {
    const x = d3.scaleLinear().domain([-.5, .5]).range([1214, 1497.5]);
    const y = d3.scalePoint<string>().domain(hallmarkNames).range([537.7, 1448.3]);
    const radius = d3.scaleSqrt().domain([0, .625]).range([5.5, 11.5]);
    const frame = { left: 1210, right: 1547.5, top: 526.7, bottom: 1459 };

    d3.range(-.5, .63, .125).forEach(v => {
        g.append("line").attr("x1", x(v)).attr("x2", x(v)).attr("y1", frame.top).attr("y2", frame.bottom).attr("stroke", "#ececec").attr("stroke-width", 1.6);
    });
    hallmarkNames.forEach(name => {
        const cy = y(name) as number;
        g.append("line").attr("x1", frame.left).attr("x2", frame.right).attr("y1", cy).attr("y2", cy).attr("stroke", "#ececec").attr("stroke-width", 3);
    });
    hallmarkNames.forEach((name, i) => {
        const cy = y(name) as number;
        const v = hallmarkCorr[i];
        g.append("rect").attr("x", Math.min(x(0), x(v))).attr("width", Math.abs(x(v) - x(0))).attr("y", cy - 3.5).attr("height", 7).attr("fill", "#b1b1b1");
    });
    hallmarkNames.forEach((name, i) => {
        const cy = y(name) as number;
        const v = hallmarkCorr[i];
        const r = radius(Math.abs(v));
        g.append("ellipse").attr("cx", x(v)).attr("cy", cy).attr("rx", r).attr("ry", r * 1.14)
            .attr("fill", starColors[hallmarkStars[i]]).attr("fill-opacity", .92);
        g.append("line").attr("x1", frame.left - 6).attr("x2", frame.left).attr("y1", cy).attr("y2", cy).attr("stroke", "#333").attr("stroke-width", 1.4);
        g.append("text").attr("transform", `translate(1198.5,${cy}) scale(0.868,1)`).attr("text-anchor", "end").attr("font-size", 13).attr("fill", "#222").text("HALLMARK_" + name);
    });

    g.append("rect").attr("x", frame.left).attr("y", frame.top).attr("width", frame.right - frame.left).attr("height", frame.bottom - frame.top).attr("fill", "none").attr("stroke", "#555").attr("stroke-width", 1.4);
    [-.5, -.25, 0, .25, .5].forEach(v => {
        g.append("line").attr("x1", x(v)).attr("x2", x(v)).attr("y1", frame.bottom).attr("y2", frame.bottom + 6).attr("stroke", "#333").attr("stroke-width", 1.4);
        label(g, x(v), 1489, d3.format(".2f")(v).replace("-", "−"), 17.5, "middle");
    });

    label(g, 1556, 825, "Correlation", 18);
    const corrKeys: [string, number, number, number][] = [["0.2", 849, 13.5, 11.4], ["0.4", 879, 15.5, 13.4], ["0.6", 913, 17.5, 15.4]];
    corrKeys.forEach(([t, cy, rx, ry]) => {
        g.append("ellipse").attr("cx", 1576).attr("cy", cy).attr("rx", rx).attr("ry", ry).attr("fill", "#000");
        label(g, 1608, cy + 5.5, t, 15, "start", "#333");
    });
    label(g, 1556, 980, "P−value", 18);
    ["***", "**", "*", ""].forEach((t, i) => {
        const cy = 1005.7 + i * 27.7;
        g.append("ellipse").attr("cx", 1572).attr("cy", cy).attr("rx", 5).attr("ry", 4.7).attr("fill", starColors[3 - i]);
        label(g, 1600, cy + 2, t, 12, "start", "#444");
    });
}

function drawPanelD(g: G) {
    const center = { x: 438, y: 950.5 };
    const RADIUS = 350;
    const stepAngle = 2 * Math.PI / networkNodes.length;
    const position = (name: string) => {
        const a = networkNodes.indexOf(name) * stepAngle;
        return { x: center.x - RADIUS * Math.sin(a), y: center.y + RADIUS * Math.cos(a) };
    };

    edgeDrawOrder.forEach(c => {
        const from = position(pathwayCategories[c]);
        pathwayGenes[c].forEach(gene => {
            const to = position(gene);
            const p = d3.path();
            p.moveTo(from.x, from.y);
            const mx = (from.x + to.x) / 2;
            const my = (from.y + to.y) / 2;
            p.quadraticCurveTo(mx + (center.x - mx) * 1.05, my + (center.y - my) * 1.05, to.x, to.y);
            g.append("path").attr("d", p.toString()).attr("fill", "none").attr("stroke", categoryColors[c]).attr("stroke-width", 2.4).attr("stroke-opacity", .9);
        });
    });

    const catRadius = d3.scaleLinear().domain([4, 5, 6, 7]).range([5, 8, 9.5, 11]);
    pathwayCategories.forEach((cat, c) => {
        const p = position(cat);
        g.append("circle").attr("cx", p.x).attr("cy", p.y).attr("r", catRadius(pathwayGenes[c].length)).attr("fill", "#e0c28e");
    });
    networkNodes.filter(n => !pathwayCategories.includes(n)).forEach(n => {
        const p = position(n);
        g.append("circle").attr("cx", p.x).attr("cy", p.y).attr("r", 4.7).attr("fill", "#e8101a");
    });

    const nodeLabelPlaces: Record<string, [number, number, number]> = {
        "GSTP1": [453, 1295, 13.8], "G6PD": [363, 1304, 13.8], "PGD": [307, 1262, 13.8], "HLA−DRA": [233, 1240, 13.8], "CD74": [187, 1170, 13.5],
        "LGMN": [130, 1127, 13.6], "HLA−DMA": [129, 1038, 13.8], "HLA−DPB1": [112, 963, 13.8], "HLA−DQB1": [117, 887, 13.8], "PIGR": [129, 814, 13.8],
        "AKR1C1": [160, 748, 12], "CBR1": [193, 708, 11.5], "ALDH3A1": [257, 662, 11.4], "EPHX1": [323, 629, 11], "KIT": [396, 617, 11.5],
        "Glutathione metabolism": [507, 598, 14], "Antigen processing and presentation": [616, 616, 14], "Intestinal immune network for IgA production": [673, 660, 14], "Asthma": [698, 688, 14], "Allograft rejection": [755, 745, 14],
        "Metabolism of xenobiotics by cytochrome P450": [735, 823, 14], "Type I diabetes mellitus": [810, 888, 14], "Graft−versus−host disease": [773, 971, 14], "Autoimmune thyroid disease": [762, 1053, 14], "Hematopoietic cell lineage": [776, 1124, 14],
        "ODC1": [708, 1189, 13.8], "GPX2": [652, 1240, 13.8], "GPX3": [586, 1282, 13.8], "GCLC": [530, 1286, 13.8],
    };
    networkNodes.forEach(n => {
        const [lx, ly, size] = nodeLabelPlaces[n];
        label(g, lx, ly, n, size, "middle", "#222");
    });

    label(g, 44, 1194, "size", 18, "start", "#333");
    const sizeRadius = d3.scaleLinear().domain([4, 5, 6, 7]).range([8, 13.5, 16, 18]);
    const sizeY = d3.scaleOrdinal<number, number>().domain(sizeLegend).range([1223, 1256, 1291.6, 1333]);
    sizeLegend.forEach(s => {
        g.append("circle").attr("cx", 65.4).attr("cy", sizeY(s)).attr("r", sizeRadius(s)).attr("fill", "#000");
        label(g, 102, sizeY(s) + 6, String(s), 16, "middle", "#333");
    });

    label(g, 163, 1339, "category", 18.5, "start", "#333");
    const keyRows = [1368, 1389.6, 1411, 1433.6, 1452.6, 1370, 1391, 1413, 1435.5, 1454.5];
    pathwayCategories.forEach((cat, c) => {
        const left = c < 5;
        const ky = keyRows[c];
        g.append("line").attr("x1", left ? 166 : 526).attr("x2", left ? 192 : 553).attr("y1", ky).attr("y2", ky).attr("stroke", categoryColors[c]).attr("stroke-width", 2.6);
        label(g, left ? 206.6 : 567, ky + 5.5, cat, 17.2, "start", "#333");
    });
}

function drawPanelE(g: G) {
    const x = d3.scaleLinear().domain([0, 7.5]).range([664, 1068.9]);
    const y = d3.scalePoint<string>().domain(d3.range(goTerms.length).map(String)).range([1539.7, 2289.7]);
    // the labels do not sit exactly on their bars in the figure
    const labelShift = [-5.3, -6.7, -2.7, -1.7, -5.7, -5.7, 2.8, 3.3, .7, 1.7, -.7, -1.7, -.3, .7, 1, 0, -2, -.7, -.7, 0, -6.3, -1.7, 0, -2, -6.3, -4.3, -2.3, -6, -2, -6.3];

    goTerms.forEach((term, i) => {
        const cy = y(String(i)) as number;
        g.append("rect").attr("x", x(0)).attr("width", x(goScores[i]) - x(0)).attr("y", cy - 10.3).attr("height", 20.6).attr("fill", ontologyColors[goOntology[i]]);
        g.append("line").attr("x1", 656).attr("x2", 664).attr("y1", cy + labelShift[i] + 5).attr("y2", cy + labelShift[i] + 5).attr("stroke", "#222").attr("stroke-width", 1.4);
        const lines = term.split("\n");
        lines.forEach((line, k) => {
            const ly = cy + labelShift[i] + 6.5 + (k - (lines.length - 1) / 2) * 17.3;
            label(g, 655, ly, line, 19.9, "end", "#111");
        });
    });

    g.append("line").attr("x1", 664).attr("x2", 664).attr("y1", 1523).attr("y2", 2305).attr("stroke", "#222").attr("stroke-width", 1.8);
    g.append("line").attr("x1", 664).attr("x2", 1174).attr("y1", 2305).attr("y2", 2305).attr("stroke", "#444").attr("stroke-width", 2.4);
    [0, 2.5, 5, 7.5].forEach(v => {
        g.append("line").attr("x1", x(v)).attr("x2", x(v)).attr("y1", 2305).attr("y2", 2312).attr("stroke", "#333").attr("stroke-width", 1.4);
        label(g, x(v), 2338, v.toFixed(1), 20, "middle");
    });
    label(g, 887, 2361, "Enrichment Score", 25.5, "middle");
    label(g, 918, 1523, "GO Results of Three Ontologies", 28.4, "middle");

    g.append("rect").attr("x", 1113).attr("y", 1536).attr("width", 82).attr("height", 93).attr("fill", "#fff").attr("stroke", "#111").attr("stroke-width", 1.8);
    Object.keys(ontologyColors).forEach((k, i) => {
        g.append("rect").attr("x", 1123).attr("y", 1546 + i * 25.3).attr("width", 31).attr("height", 22.5).attr("fill", ontologyColors[k]);
        label(g, 1164.5, 1562.5 + i * 25, k, 14, "start", "#222");
    });
}

function drawPanelF(g: G) {
    const x = d3.scalePoint<string>().domain(["Low_PPIA", "High_PPIA"]).range([1368.7, 1535.7]);
    const y = d3.scaleLinear().domain([1, 5]).range([2086.3, 1790]);
    const width = d3.scaleLinear().domain([0, 1]).range([0, 76]);

    const violins: [string, [number, number][], [number, number][], string][] = [
        ["Low_PPIA", lowViolin, lowCellBins, "#ee6f63"],
        ["High_PPIA", highViolin, highCellBins, "#1fb5b8"],
    ];
    violins.forEach(([name, shape, bins, fill]) => {
        const cx = x(name) as number;
        const area = d3.area<[number, number]>()
            .y(d => y(d[0]))
            .x0(d => cx - width(d[1]))
            .x1(d => cx + width(d[1]))
            .curve(d3.curveMonotoneY);
        g.append("path").attr("d", area(shape)).attr("fill", fill).attr("stroke", "#444").attr("stroke-width", 1.4);

        let k = 0;
        const cells = g.append("g").attr("fill", "#000");
        bins.forEach(([v, count]) => {
            d3.range(count).forEach(() => {
                const value = v - .05 + halton(k * 7 + 3, 3) * .1;
                cells.append("rect").attr("x", cx + (halton(k * 11 + 5, 5) * 2 - 1) * 67 - 1).attr("y", y(value) - 1).attr("width", 2).attr("height", 1.7);
                k++;
            });
        });
    });

    g.append("rect").attr("x", 1267.7).attr("y", 1738).attr("width", 368.3).attr("height", 375).attr("fill", "none").attr("stroke", "#444").attr("stroke-width", 1.6);
    [1, 2, 3, 4, 5].forEach(v => {
        g.append("line").attr("x1", 1259).attr("x2", 1267.7).attr("y1", y(v)).attr("y2", y(v)).attr("stroke", "#444").attr("stroke-width", 1.4);
        label(g, 1252, y(v) + 6.5, String(v), 18, "end", "#333");
    });
    ["Low_PPIA", "High_PPIA"].forEach(name => {
        const cx = x(name) as number;
        g.append("line").attr("x1", cx).attr("x2", cx).attr("y1", 2113).attr("y2", 2124).attr("stroke", "#444").attr("stroke-width", 1.4);
        rotated(g, cx + 12, 2134, name, 20, -45, "end", "#333");
    });
    label(g, 1413, 2220, "Identity", 19.5, "middle", "#333");
    rotated(g, 1232.7, 1926, "Expression Level", 20.5, -90, "middle", "#333");

    label(g, 1283, 1764, "PPIA", 17, "start", "#333");
    g.append("rect").attr("x", 1282).attr("y", 1770).attr("width", 20.5).attr("height", 21).attr("fill", "#ee6f63").attr("stroke", "#444").attr("stroke-width", 1.2);
    g.append("rect").attr("x", 1282).attr("y", 1791).attr("width", 20.5).attr("height", 21).attr("fill", "#1fb5b8").attr("stroke", "#444").attr("stroke-width", 1.2);
    label(g, 1313, 1786, "Low_PPIA", 16.5, "start", "#333");
    label(g, 1313, 1808, "High_PPIA", 16.5, "start", "#333");
}

const panelLetters: [string, number, number][] = [["A", 2, 31], ["B", 1212, 28], ["C", 895, 567], ["D", 20, 568], ["E", 38, 1529], ["F", 1248, 1699]];

export default function App() {
    const ref = useRef<SVGSVGElement>(null);

    useEffect(() => {
        const svg = d3.select(ref.current as SVGSVGElement);
        svg.selectAll("*").remove();
        const root = svg.append("g").attr("font-family", FONT) as unknown as G;
        drawPanelA(root);
        drawPanelB(root);
        drawPanelC(root);
        drawPanelD(root);
        drawPanelE(root);
        drawPanelF(root);
        panelLetters.forEach(([t, x, y]) => {
            label(root, x, y, t, 34, "start", "#000").attr("font-weight", "bold");
        });
    }, []);

    return (
        <svg ref={ref} width={1664} height={2363} style={{ position: "absolute", left: 0, top: 0, background: "#fff" }} />
    );
}
